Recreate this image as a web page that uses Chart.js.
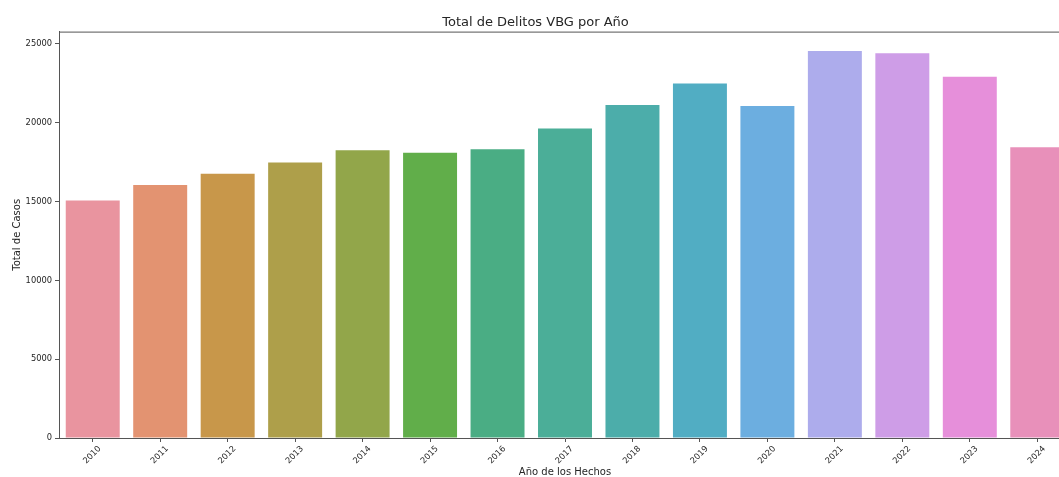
<!DOCTYPE html>
<html>
<head>
<meta charset="utf-8">
<script src="https://cdn.jsdelivr.net/npm/chart.js@4/dist/chart.umd.min.js"></script>
<style>
  html, body { margin: 0; padding: 0; background: #fff; overflow: hidden; }
  #wrap { width: 1071px; height: 477px; }
</style>
</head>
<body>
<div id="wrap"><canvas id="chart" width="1071" height="477"></canvas></div>
<script>
// datos
const years = ['2010', '2011', '2012', '2013', '2014', '2015', '2016', '2017', '2018', '2019', '2020', '2021', '2022', '2023', '2024'];
const totalCases = [15070, 16050, 16770, 17470, 18250, 18090, 18310, 19630, 21120, 22480, 21060, 24550, 24400, 22910, 18450];
const barColors = [
    '#e9949f', '#e39371', '#c8974a', '#ae9f4a', '#92a64a',
    '#61ae4a', '#4aad84', '#4bae98', '#4cadaa', '#51adc3',
    '#6caee0', '#adacec', '#ce9de7', '#e68fda', '#e890ba'
];
const yTicks = [0, 5000, 10000, 15000, 20000, 25000];

const textColor = '#262626';
const spineColor = '#555';
const fontFamily = '"DejaVu Sans", sans-serif';

// matplotlib dibuja el borde superior del eje
const topSpine = {
    id: 'topSpine',
    afterDraw(chart) {
        const { ctx, chartArea } = chart;
        ctx.save();
        ctx.strokeStyle = spineColor;
        ctx.lineWidth = 1;
        ctx.beginPath();
        ctx.moveTo(chartArea.left, chartArea.top + 0.5);
        ctx.lineTo(chartArea.right, chartArea.top + 0.5);
        ctx.stroke();
        ctx.restore();
    }
};

new Chart(document.getElementById('chart'), {
    type: 'bar',
    data: {
        labels: years,
        datasets: [{
            label: 'Total de Casos',
            data: totalCases,
            backgroundColor: barColors,
            borderWidth: 0,
            categoryPercentage: 0.8,
            barPercentage: 1.0
        }]
    },
    options: {
        responsive: false,
        animation: false,
        layout: { padding: 0 },
        plugins: {
            legend: { display: false },
            tooltip: { enabled: false },
            title: {
                display: true,
                text: 'Total de Delitos VBG por Año',
                color: textColor,
                font: { family: fontFamily, size: 13, weight: 'normal', lineHeight: 1.2 },
                padding: { top: 15, bottom: 1 }
            }
        },
        scales: {
            x: {
                grid: {
                    display: true,
                    drawOnChartArea: false,
                    drawTicks: true,
                    tickLength: 4,
                    offset: false,
                    color: spineColor
                },
                border: { display: true, color: spineColor, width: 1 },
                ticks: {
                    color: textColor,
                    font: { family: fontFamily, size: 8.3 },
                    minRotation: 45,
                    maxRotation: 45,
                    labelOffset: 7,
                    padding: 2
                },
                title: {
                    display: true,
                    text: 'Año de los Hechos',
                    color: textColor,
                    font: { family: fontFamily, size: 10, lineHeight: 1 },
                    padding: 0
                },
                afterFit(axis) { axis.height = 39; }
            },
            y: {
                min: 0,
                max: 25780,
                grid: {
                    display: true,
                    drawOnChartArea: false,
                    drawTicks: true,
                    tickLength: 4,
                    color: spineColor
                },
                border: { display: true, color: spineColor, width: 1 },
                afterBuildTicks(axis) {
                    axis.ticks = yTicks.map(v => ({ value: v }));
                },
                ticks: {
                    color: textColor,
                    font: { family: fontFamily, size: 8.3 },
                    padding: 3,
                    callback: v => String(v)
                },
                title: {
                    display: true,
                    text: 'Total de Casos',
                    color: textColor,
                    font: { family: fontFamily, size: 10, lineHeight: 1 },
                    padding: { top: 12, bottom: 0 }
                },
                afterFit(axis) { axis.width = 59; }
            }
        }
    },
    plugins: [topSpine]
});
</script>
</body>
</html>
